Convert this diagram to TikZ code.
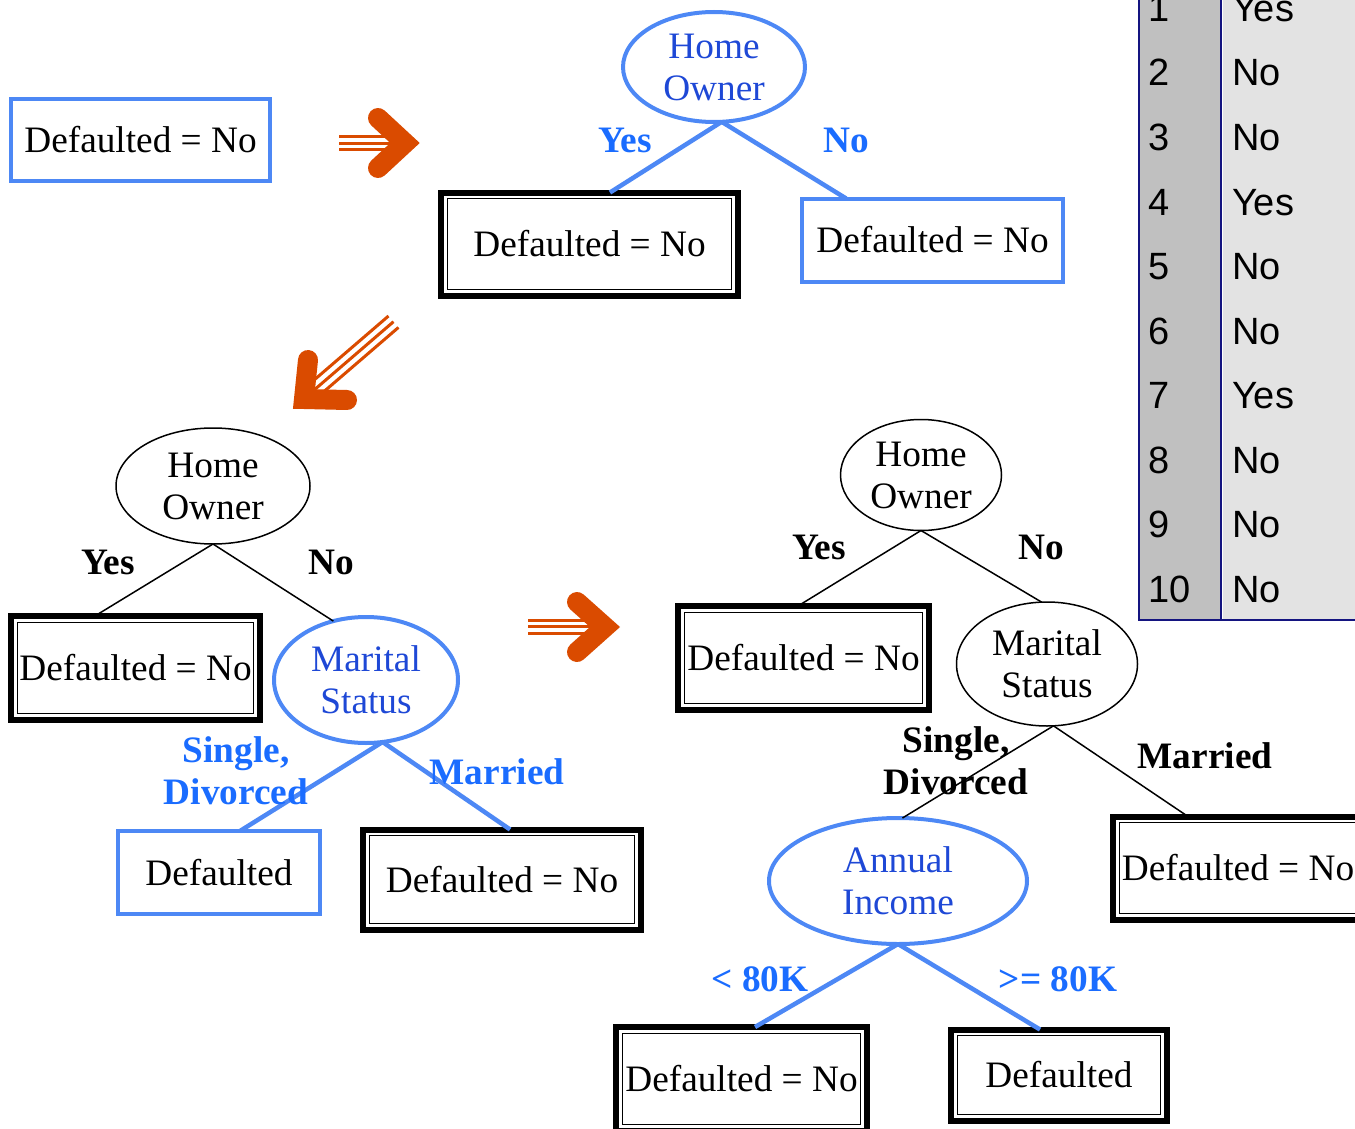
\documentclass[tikz,border=0pt]{standalone}
\usepackage{fontspec}
\setmainfont{Liberation Serif}
\newfontfamily\tablefont{Liberation Sans}
\usetikzlibrary{shapes.geometric,calc}

\definecolor{edgeblue}{RGB}{77,136,245}
\definecolor{labelblue}{RGB}{26,108,255}
\definecolor{textblue}{RGB}{30,72,214}
\definecolor{arroworange}{RGB}{218,75,0}
\definecolor{navyline}{RGB}{20,20,128}
\definecolor{colgrey}{RGB}{192,192,192}
\definecolor{cellgrey}{RGB}{227,227,227}

\begin{document}
\begin{tikzpicture}[x=1pt,y=-1pt,
  every node/.style={font=\fontsize{37.3}{42}\selectfont, inner sep=0pt, outer sep=0pt},
  bluebox/.style={rectangle, draw=edgeblue, line width=4pt},
  leafbox/.style={rectangle, draw=black, line width=6pt,
    path picture={\draw[black, line width=1.3pt]
      ([shift={(6.3pt,-6.3pt)}]path picture bounding box.north west) rectangle
      ([shift={(-6.3pt,6.3pt)}]path picture bounding box.south east);}},
  bluetest/.style={ellipse, draw=edgeblue, line width=4pt, text=textblue, align=center},
  blacktest/.style={ellipse, draw=black, line width=1.5pt, align=center},
  blueedge/.style={draw=edgeblue, line width=4.5pt},
  blackedge/.style={draw=black, line width=1.5pt},
  bluelabel/.style={text=labelblue, font=\fontsize{37.3}{42}\selectfont\bfseries, align=center},
  blacklabel/.style={text=black, font=\fontsize{37.3}{42}\selectfont\bfseries, align=center},
  cell/.style={font=\fontsize{38}{42}\selectfont\tablefont, anchor=base west},
  arrowlines/.style={draw=arroworange, line width=3pt},
  chevron/.style={draw=arroworange, line width=20pt, line cap=round, line join=miter},
]
\useasboundingbox (0,0) rectangle (1355,1129);
\clip (0,0) rectangle (1355,1129);

% ---------- data table at the right ----------
\fill[colgrey] (1139,-10) rectangle (1220,620);
\fill[cellgrey] (1223,-10) rectangle (1365,620);
\draw[navyline, line width=2pt] (1139,-10) -- (1139,620) -- (1365,620);
\draw[navyline, line width=2pt] (1220.5,-10) -- (1220.5,620);
\foreach \n/\v [count=\i from 0] in {1/Yes,2/No,3/No,4/Yes,5/No,6/No,7/Yes,8/No,9/No,10/No}{
  \node[cell] (num\n) at (1148,21.5+64.5*\i) {\n};
  \node[cell] (val\n) at (1232,21.5+64.5*\i) {\v};
}

% ---------- step 1: single leaf ----------
\node[bluebox, minimum width=259pt, minimum height=82pt] (start) at (140.5,140) {Defaulted = No};

% orange arrow to the right
\draw[arrowlines] (339,137) -- (395,137);
\draw[arrowlines] (339,143.5) -- (398,143.5);
\draw[arrowlines] (339,150) -- (395,150);
\draw[chevron] (378,118) -- (405,143) -- (378,168);

% ---------- step 2: split on Home Owner ----------
\node[bluetest, minimum width=182pt, minimum height=110pt] (ho1) at (714,67) {Home\\Owner};
\node[leafbox, minimum width=297pt, minimum height=103pt] (l1) at (589.5,244) {Defaulted = No};
\node[bluebox, minimum width=261pt, minimum height=83pt] (r1) at (932.5,240) {Defaulted = No};
\draw[blueedge] (ho1.-82) -- ($(l1.north west)!0.569!(l1.north east)$);
\draw[blueedge] (ho1.-82) -- ($(r1.north west)!0.169!(r1.north east)$);
\node[bluelabel] (y1) at (625,140) {Yes};
\node[bluelabel] (n1) at (846,140) {No};

% orange arrow down-left
\draw[arrowlines] (388.5,316) -- (301,391.3);
\draw[arrowlines] (393.5,321.7) -- (306,397);
\draw[arrowlines] (398.5,327.4) -- (311,402.7);
\draw[chevron] (308,360) -- (304,399) -- (347,400);

% ---------- step 3: split on Marital Status ----------
\node[blacktest, minimum width=194pt, minimum height=116pt] (ho2) at (213,486) {Home\\Owner};
\node[leafbox, minimum width=249pt, minimum height=104pt] (l2) at (135.5,668) {Defaulted = No};
\node[bluetest, minimum width=184pt, minimum height=126pt] (ms1) at (366,680) {Marital\\Status};
\draw[blackedge] (ho2.south) -- ($(l2.north west)!0.337!(l2.north east)$);
\draw[blackedge] (ho2.south) -- (ms1.119);
\node[blacklabel] (y2) at (108,562) {Yes};
\node[blacklabel] (n2) at (331,562) {No};

\node[bluebox, minimum width=202pt, minimum height=83pt] (d2) at (219,872.5) {Defaulted};
\node[leafbox, minimum width=278pt, minimum height=100pt] (r2) at (502,879.5) {Defaulted = No};
\draw[blueedge] (ms1.-75) -- ($(d2.north west)!0.604!(d2.north east)$);
\draw[blueedge] (ms1.-75) -- ($(r2.north west)!0.529!(r2.north east)$);
\node[bluelabel] (sd2) at (236,771) {Single,\\Divorced};
\node[bluelabel] (m2) at (497,772) {Married};

% orange arrow to the right
\draw[arrowlines] (528,620) -- (595,620);
\draw[arrowlines] (528,626.5) -- (598,626.5);
\draw[arrowlines] (528,633) -- (595,633);
\draw[chevron] (577,602) -- (605,627) -- (577,652);

% ---------- step 4: split on Annual Income ----------
\node[blacktest, minimum width=161pt, minimum height=111pt] (ho3) at (921,475) {Home\\Owner};
\node[leafbox, minimum width=251pt, minimum height=104pt] (l3) at (803.5,658) {Defaulted = No};
\node[blacktest, minimum width=181pt, minimum height=124pt] (ms2) at (1047,664) {Marital\\Status};
\draw[blackedge] (ho3.south) -- ($(l3.north west)!0.478!(l3.north east)$);
\draw[blackedge] (ho3.south) -- (ms2.95);
\node[blacklabel] (y3) at (819,547) {Yes};
\node[blacklabel] (n3) at (1041,547) {No};

\node[bluetest, minimum width=258pt, minimum height=126pt] (ai) at (898,881) {Annual\\Income};
\node[leafbox, minimum width=250pt, minimum height=103pt] (r3) at (1238,868) {Defaulted = No};
\draw[blackedge] (ms2.-84) -- (ai.86);
\draw[blackedge] (ms2.-84) -- ($(r3.north west)!0.3!(r3.north east)$);
\node[blacklabel] (sd3) at (956,761) {Single,\\Divorced};
\node[blacklabel] (m3) at (1205,756) {Married};

\node[leafbox, minimum width=251pt, minimum height=104pt] (lo) at (741.5,1079) {Defaulted = No};
\node[leafbox, minimum width=216pt, minimum height=91pt] (hi) at (1059,1075) {Defaulted};
\draw[blueedge] (ai.south) -- ($(lo.north west)!0.554!(lo.north east)$);
\draw[blueedge] (ai.south) -- ($(hi.north west)!0.412!(hi.north east)$);
\node[bluelabel] (lt) at (760,979) {< 80K};
\node[bluelabel] (ge) at (1058,979) {>= 80K};
\end{tikzpicture}
\end{document}
